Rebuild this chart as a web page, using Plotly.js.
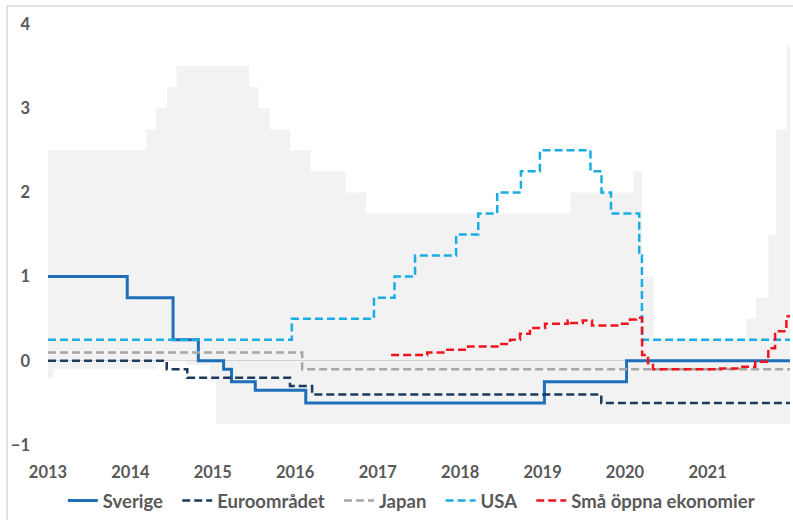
<!DOCTYPE html>
<html>
<head>
<meta charset="utf-8">
<script src="https://cdn.plot.ly/plotly-3.0.1.min.js"></script>
<style>html,body{margin:0;padding:0;background:#fff}#chart{width:793px;height:520px}</style>
</head>
<body>
<div id="chart"></div>
<script>
// Interval (grey band) – lower and upper bounds
const bandLowerDates = ['2013-01-01','2013-01-25','2014-04-25','2014-09-05','2014-12-18','2015-01-15','2022-01-01'];
const bandLowerVals  = [-0.2, -0.1, 0.0, -0.05, -0.25, -0.75, -0.75];
const bandUpperDates = ['2013-01-01','2014-03-13','2014-04-24','2014-06-12','2014-07-24','2015-06-11','2015-07-23','2015-09-10','2015-12-10','2016-03-10','2016-08-11','2016-11-10','2019-05-03','2020-02-07','2020-03-17','2020-05-07','2021-06-22','2021-08-04','2021-09-27','2021-11-01','2021-12-18','2022-01-01'];
const bandUpperVals  = [2.5, 2.75, 3.0, 3.25, 3.5, 3.25, 3.0, 2.75, 2.5, 2.25, 2.0, 1.75, 2.0, 2.25, 1.0, 0.25, 0.5, 0.75, 1.5, 2.75, 3.75, 3.75];

// Sverige
const seDates = ['2013-01-01','2013-12-18','2014-07-09','2014-10-29','2015-02-18','2015-03-25','2015-07-08','2016-02-17','2019-01-09','2020-01-08','2022-01-01'];
const seVals  = [1.0, 0.75, 0.25, 0.0, -0.1, -0.25, -0.35, -0.5, -0.25, 0.0, 0.0];
// Euroområdet
const euDates = ['2013-01-01','2014-06-11','2014-09-10','2015-12-09','2016-03-16','2019-09-18','2022-01-01'];
const euVals  = [0.0, -0.1, -0.2, -0.3, -0.4, -0.5, -0.5];
// Japan
const jpDates = ['2013-01-01','2016-02-01','2022-01-01'];
const jpVals  = [0.1, -0.1, -0.1];
// USA
const usDates = ['2013-01-01','2015-12-17','2016-12-15','2017-03-16','2017-06-15','2017-12-14','2018-03-22','2018-06-14','2018-09-27','2018-12-20','2019-08-01','2019-09-19','2019-10-31','2020-03-04','2020-03-16','2022-01-01'];
const usVals  = [0.25, 0.5, 0.75, 1.0, 1.25, 1.5, 1.75, 2.0, 2.25, 2.5, 2.25, 2.0, 1.75, 1.25, 0.25, 0.25];
// Små öppna ekonomier
const soeDates = ['2017-03-01','2017-08-08','2017-11-05','2018-02-05','2018-06-25','2018-08-10','2018-09-23','2018-11-06','2019-01-12','2019-04-22','2019-05-06','2019-06-28','2019-08-08','2019-12-10','2020-01-23','2020-02-20','2020-03-17','2020-04-12','2020-05-04','2021-02-26','2021-05-25','2021-07-31','2021-09-27','2021-10-27','2021-12-16','2022-01-01'];
const soeVals  = [0.07, 0.10, 0.13, 0.17, 0.20, 0.25, 0.32, 0.39, 0.44, 0.48, 0.45, 0.48, 0.42, 0.44, 0.49, 0.51, 0.07, -0.03, -0.10, -0.09, -0.07, -0.01, 0.15, 0.35, 0.53, 0.53];

const seriesNames = ['Sverige', 'Euroområdet', 'Japan', 'USA', 'Små öppna ekonomier'];

const xTickVals = ['2013-01-01','2014-01-01','2015-01-01','2016-01-01','2017-01-01','2018-01-01','2019-01-01','2020-01-01','2021-01-01'];
const xTickText = ['2013','2014','2015','2016','2017','2018','2019','2020','2021'];
const yTickVals = [-1, 0, 1, 2, 3, 4];

const FONT = 'Lato, "Open Sans", sans-serif';
const GREY = '#595959';
const PAD = '\u2002'; // legend spacing

const traces = [
  {x: bandLowerDates, y: bandLowerVals, mode: 'lines', line: {width: 0, shape: 'hv'}, showlegend: false, hoverinfo: 'skip'},
  {x: bandUpperDates, y: bandUpperVals, mode: 'lines', line: {width: 0, shape: 'hv'}, fill: 'tonexty', fillcolor: 'rgba(0,0,0,0.05)', showlegend: false, hoverinfo: 'skip'},
  {x: seDates, y: seVals, name: seriesNames[0] + PAD, mode: 'lines', line: {color: '#1F6EBA', width: 3, shape: 'hv'}},
  {x: euDates, y: euVals, name: seriesNames[1] + PAD, mode: 'lines', line: {color: '#1B3A5C', width: 2.5, shape: 'hv', dash: '8px,4px'}},
  {x: jpDates, y: jpVals, name: seriesNames[2] + PAD, mode: 'lines', line: {color: '#A6A6A6', width: 2.5, shape: 'hv', dash: '8px,4px'}},
  {x: usDates, y: usVals, name: seriesNames[3] + PAD, mode: 'lines', line: {color: '#1AADE4', width: 2.5, shape: 'hv', dash: '8px,4px'}},
  {x: soeDates, y: soeVals, name: seriesNames[4], mode: 'lines', line: {color: '#F0141E', width: 2.5, shape: 'hv', dash: '8px,4px'}}
];

const layout = {
  width: 793, height: 520,
  margin: {l: 48, r: 3, t: 24, b: 75, autoexpand: false},
  paper_bgcolor: '#ffffff', plot_bgcolor: '#ffffff',
  font: {family: FONT, size: 16, color: GREY, weight: 'bold'},
  xaxis: {
    type: 'date', range: ['2013-01-01', '2022-01-01'],
    tickvals: xTickVals, ticktext: xTickText,
    showgrid: false, zeroline: false, showline: false, ticks: '',
    ticklabelstandoff: 15, automargin: false,
    tickfont: {family: FONT, size: 16.5, color: GREY, weight: 'bold'}
  },
  yaxis: {
    range: [-1, 4], tickvals: yTickVals,
    showgrid: false, zeroline: true, zerolinecolor: '#DCDCDC', zerolinewidth: 1,
    showline: false, ticks: '', ticklabelstandoff: 17, automargin: false,
    tickfont: {family: FONT, size: 16.5, color: GREY, weight: 'bold'}
  },
  legend: {
    orientation: 'h', traceorder: 'normal', x: 0.02, xanchor: 'left', y: -0.133, yanchor: 'middle',
    font: {family: FONT, size: 18.5, color: GREY, weight: 'bold'},
    bgcolor: 'rgba(0,0,0,0)', itemwidth: 30
  },
  shapes: [
    {type: 'rect', xref: 'paper', yref: 'paper', x0: -0.0553, x1: 1.2, y0: -0.4, y1: 1.0428,
     line: {color: '#D9D9D9', width: 1.5}, fillcolor: 'rgba(0,0,0,0)', layer: 'below'}
  ],
  showlegend: true
};

Plotly.newPlot('chart', traces, layout, {displayModeBar: false, staticPlot: true});
</script>
</body>
</html>
